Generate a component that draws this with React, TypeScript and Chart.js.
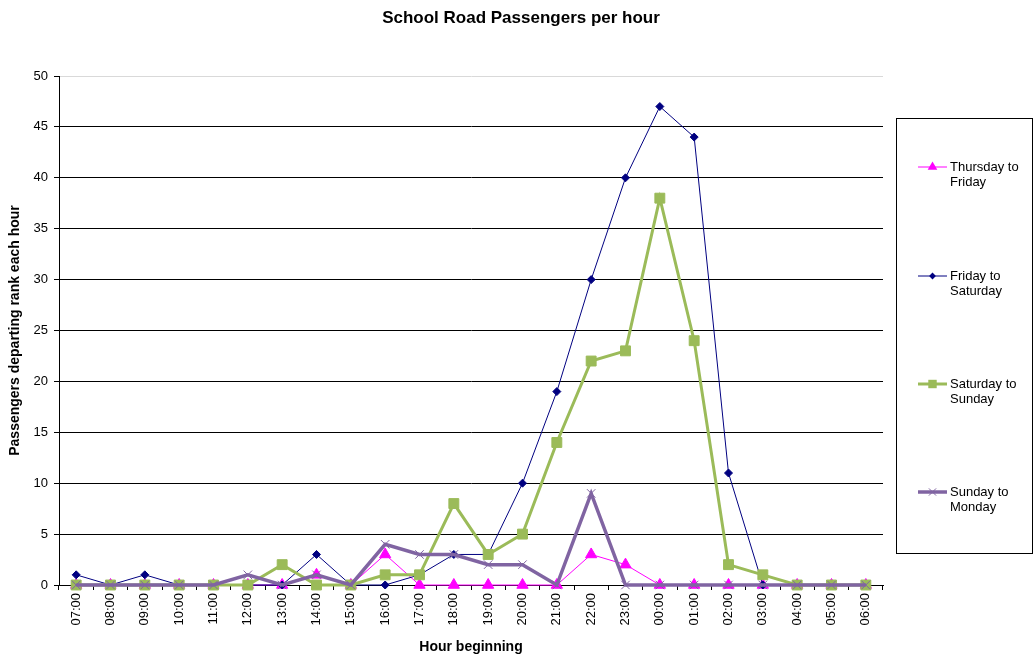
import React, { useEffect, useRef } from "react";
import { Chart, registerables } from "chart.js";

Chart.register(...registerables);

const hours = [
  "07:00", "08:00", "09:00", "10:00", "11:00", "12:00", "13:00", "14:00",
  "15:00", "16:00", "17:00", "18:00", "19:00", "20:00", "21:00", "22:00",
  "23:00", "00:00", "01:00", "02:00", "03:00", "04:00", "05:00", "06:00",
];

const thursdayToFriday = [0, 0, 0, 0, 0, 0, 0, 1, 0, 3, 0, 0, 0, 0, 0, 3, 2, 0, 0, 0, 0, 0, 0, 0];
const fridayToSaturday = [1, 0, 1, 0, 0, 0, 0, 3, 0, 0, 1, 3, 3, 10, 19, 30, 40, 47, 44, 11, 0, 0, 0, 0];
const saturdayToSunday = [0, 0, 0, 0, 0, 0, 2, 0, 0, 1, 1, 8, 3, 5, 14, 22, 23, 38, 24, 2, 1, 0, 0, 0];
const sundayToMonday = [0, 0, 0, 0, 0, 1, 0, 1, 0, 4, 3, 3, 2, 2, 0, 9, 0, 0, 0, 0, 0, 0, 0, 0];

const yTicks = [0, 5, 10, 15, 20, 25, 30, 35, 40, 45, 50];

const FONT = "'Liberation Sans', Arial, sans-serif";

function drawMarker(ctx: CanvasRenderingContext2D, shape: string, x: number, y: number, r: number, color: string) {
  ctx.save();
  ctx.fillStyle = color;
  ctx.strokeStyle = color;
  ctx.beginPath();
  if (shape === "triangle") {
    ctx.moveTo(x, y - r);
    ctx.lineTo(x + r * 0.87, y + r * 0.5);
    ctx.lineTo(x - r * 0.87, y + r * 0.5);
    ctx.closePath();
    ctx.fill();
  } else if (shape === "rectRot") {
    ctx.moveTo(x, y - r);
    ctx.lineTo(x + r, y);
    ctx.lineTo(x, y + r);
    ctx.lineTo(x - r, y);
    ctx.closePath();
    ctx.fill();
  } else if (shape === "rect") {
    const s = r * Math.SQRT1_2;
    ctx.fillRect(x - s, y - s, s * 2, s * 2);
  } else if (shape === "crossRot") {
    const s = r * Math.SQRT1_2;
    ctx.lineWidth = 1;
    ctx.moveTo(x - s, y - s);
    ctx.lineTo(x + s, y + s);
    ctx.moveTo(x + s, y - s);
    ctx.lineTo(x - s, y + s);
    ctx.stroke();
  }
  ctx.restore();
}

const titleAndLegend = {
  id: "titleAndLegend",
  afterDraw(chart: any) {
    const ctx: CanvasRenderingContext2D = chart.ctx;
    ctx.save();
    // chart title
    ctx.fillStyle = "#000";
    ctx.font = `bold 17px ${FONT}`;
    ctx.textAlign = "center";
    ctx.textBaseline = "middle";
    ctx.fillText("School Road Passengers per hour", 521, 18);

    // legend box
    const boxL = 896.5, boxT = 118.5, boxR = 1032.5, boxB = 553.5;
    ctx.strokeStyle = "#000";
    ctx.lineWidth = 1;
    ctx.strokeRect(boxL, boxT, boxR - boxL, boxB - boxT);

    const entryCenters = [167, 276, 384, 492];
    const legendOrder = [...chart.data.datasets].sort((a: any, b: any) => b.order - a.order);
    legendOrder.forEach((ds: any, i: number) => {
      const y = entryCenters[i];
      ctx.save();
      ctx.strokeStyle = ds.borderColor;
      ctx.lineWidth = ds.borderWidth;
      ctx.beginPath();
      ctx.moveTo(918, y);
      ctx.lineTo(947, y);
      ctx.stroke();
      ctx.restore();
      drawMarker(ctx, ds.pointStyle, 932.5, y, ds.pointRadius * 0.85, ds.pointBackgroundColor);
      const label: string = ds.label;
      const cut = label.lastIndexOf(" ");
      ctx.fillStyle = "#000";
      ctx.font = `13px ${FONT}`;
      ctx.textAlign = "left";
      ctx.textBaseline = "middle";
      ctx.fillText(label.slice(0, cut), 950, y);
      ctx.fillText(label.slice(cut + 1), 950, y + 15);
    });
    ctx.restore();
  },
};

export default function App() {
  const canvasRef = useRef<HTMLCanvasElement | null>(null);

  useEffect(() => {
    if (!canvasRef.current) return;
    const chart = new Chart(canvasRef.current, {
      type: "line",
      data: {
        labels: hours,
        datasets: [
          {
            label: "Thursday to Friday",
            data: thursdayToFriday,
            borderColor: "#FF00FF",
            backgroundColor: "#FF00FF",
            pointBackgroundColor: "#FF00FF",
            pointBorderColor: "#FF00FF",
            borderWidth: 1,
            pointStyle: "triangle",
            pointRadius: 6.5,
            pointBorderWidth: 1,
            clip: false,
            order: 3,
          },
          {
            label: "Friday to Saturday",
            data: fridayToSaturday,
            borderColor: "#000080",
            backgroundColor: "#000080",
            pointBackgroundColor: "#000080",
            pointBorderColor: "#000080",
            borderWidth: 1,
            pointStyle: "rectRot",
            pointRadius: 4,
            pointBorderWidth: 1,
            clip: false,
            order: 2,
          },
          {
            label: "Saturday to Sunday",
            data: saturdayToSunday,
            borderColor: "#9BBB59",
            backgroundColor: "#9BBB59",
            pointBackgroundColor: "#9BBB59",
            pointBorderColor: "#9BBB59",
            borderWidth: 3,
            pointStyle: "rect",
            pointRadius: 7,
            pointBorderWidth: 1,
            clip: false,
            order: 1,
          },
          {
            label: "Sunday to Monday",
            data: sundayToMonday,
            borderColor: "#8064A2",
            backgroundColor: "#8064A2",
            pointBackgroundColor: "#8064A2",
            pointBorderColor: "#8064A2",
            borderWidth: 3.5,
            pointStyle: "crossRot",
            pointRadius: 6,
            pointBorderWidth: 1,
            clip: false,
            order: 0,
          },
        ],
      },
      options: {
        responsive: false,
        animation: false,
        events: [],
        layout: { padding: { top: 76, right: 152, bottom: 0, left: 0 } },
        plugins: {
          legend: { display: false },
          title: { display: false },
          tooltip: { enabled: false },
        },
        scales: {
          x: {
            type: "category",
            offset: true,
            afterFit(scale: any) {
              scale.height = 71;
            },
            grid: {
              offset: true,
              drawOnChartArea: false,
              drawTicks: true,
              tickLength: 5,
              color: "#000",
            },
            border: { color: "#000", width: 1 },
            ticks: {
              color: "#000",
              font: { family: FONT, size: 13 },
              minRotation: 90,
              maxRotation: 90,
              autoSkip: false,
              padding: 3,
            },
            title: {
              display: true,
              text: "Hour beginning",
              color: "#000",
              font: { family: FONT, size: 14, weight: "bold" },
              padding: { top: 0, bottom: 0 },
            },
          },
          y: {
            min: 0,
            max: 50,
            afterFit(scale: any) {
              scale.width = 59;
            },
            afterBuildTicks(scale: any) {
              scale.ticks = yTicks.map((v) => ({ value: v }));
            },
            grid: {
              color: (c: any) => (c.tick && c.tick.value === 50 ? "#d9d9d9" : "#000"),
              tickColor: "#000",
              lineWidth: 1,
              drawTicks: true,
              tickLength: 5,
            },
            border: { color: "#000", width: 1 },
            ticks: {
              color: "#000",
              font: { family: FONT, size: 13 },
              padding: 6,
            },
            title: {
              display: true,
              text: "Passengers departing rank each hour",
              color: "#000",
              font: { family: FONT, size: 14, weight: "bold" },
              padding: { top: 7, bottom: 0 },
            },
          },
        },
      },
      plugins: [titleAndLegend],
    });
    return () => chart.destroy();
  }, []);

  return (
    <div style={{ position: "absolute", left: 0, top: 0, width: 1035, height: 656, background: "#fff" }}>
      <canvas ref={canvasRef} width={1035} height={656} />
    </div>
  );
}
